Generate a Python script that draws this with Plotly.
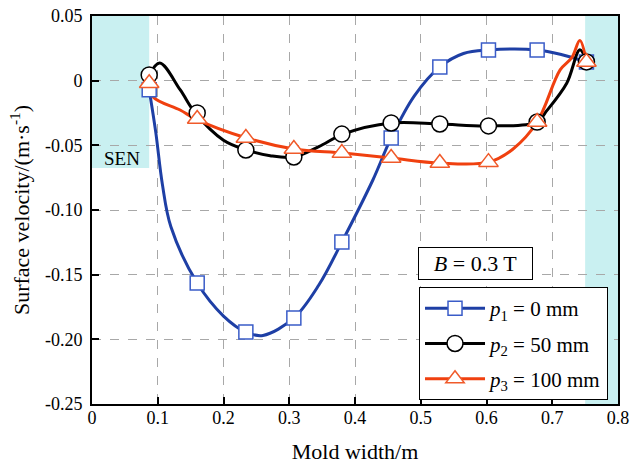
import plotly.graph_objects as go

# ---- data ----
# marker positions
mk_x = [0.087, 0.160, 0.234, 0.307, 0.380, 0.455, 0.529, 0.603, 0.677, 0.752]
p1_mk = [-0.007, -0.1565, -0.1944, -0.1835, -0.1248, -0.0443, 0.0106, 0.0237, 0.0237, 0.0144]
p2_mk = [0.0044, -0.0250, -0.0536, -0.0590, -0.0413, -0.0327, -0.0335, -0.0350, -0.0320, 0.0145]
p3_mk = [-0.002, -0.0297, -0.0443, -0.0528, -0.0560, -0.0598, -0.0637, -0.0630, -0.0320, 0.0144]

# smooth curves (denser points)
p1_lx = [0.087, 0.097, 0.107, 0.120, 0.160, 0.200, 0.234, 0.260, 0.307, 0.345, 0.380, 0.427, 0.455, 0.490, 0.529, 0.565, 0.603, 0.677, 0.715, 0.752]
p1_ly = [-0.007, -0.040, -0.080, -0.113, -0.1565, -0.182, -0.1944, -0.197, -0.1835, -0.158, -0.1248, -0.077, -0.0443, -0.012, 0.0106, 0.021, 0.0237, 0.0237, 0.020, 0.0144]

p2_lx = [0.087, 0.103, 0.134, 0.157, 0.200, 0.235, 0.271, 0.307, 0.345, 0.382, 0.455, 0.529, 0.603, 0.676, 0.692, 0.722, 0.742, 0.752]
p2_ly = [0.0044, 0.0137, -0.007, -0.025, -0.046, -0.0536, -0.058, -0.059, -0.051, -0.0413, -0.0327, -0.0335, -0.035, -0.032, -0.023, -0.002, 0.024, 0.0145]

p3_lx = [0.087, 0.093, 0.134, 0.158, 0.235, 0.307, 0.382, 0.455, 0.529, 0.603, 0.640, 0.677, 0.712, 0.730, 0.742, 0.752]
p3_ly = [-0.002, -0.0126, -0.0227, -0.0297, -0.0443, -0.0528, -0.056, -0.0598, -0.0637, -0.063, -0.053, -0.032, 0.0083, 0.018, 0.031, 0.0144]

names = ["<i>p</i><sub>1</sub> = 0 mm", "<i>p</i><sub>2</sub> = 50 mm", "<i>p</i><sub>3</sub> = 100 mm"]
x_ticks = [0, 0.1, 0.2, 0.3, 0.4, 0.5, 0.6, 0.7, 0.8]
x_ticktext = ["0", "0.1", "0.2", "0.3", "0.4", "0.5", "0.6", "0.7", "0.8"]
y_ticks = [0.05, 0, -0.05, -0.10, -0.15, -0.20, -0.25]
y_ticktext = ["0.05", "0", "-0.05", "-0.10", "-0.15", "-0.20", "-0.25"]

FONT = "Liberation Serif"
BLUE_L, BLUE_M = "#1e3fa5", "#3a5cc8"
BLACK = "#000000"
RED_L, RED_M = "#f0400f", "#f05a2a"

fig = go.Figure()

series = [
    (p1_lx, p1_ly, p1_mk, BLUE_L, BLUE_M, "square", 14),
    (p2_lx, p2_ly, p2_mk, BLACK, BLACK, "circle", 16),
    (p3_lx, p3_ly, p3_mk, RED_L, RED_M, "triangle-up", 17),
]
for (lx, ly, mky, lc, mc, sym, sz), nm in zip(series, names):
    fig.add_trace(go.Scatter(x=lx, y=ly, mode="lines", line=dict(color=lc, width=3, shape="spline", smoothing=1.0),
                             showlegend=False, hoverinfo="skip"))
for (lx, ly, mky, lc, mc, sym, sz), nm in zip(series, names):
    fig.add_trace(go.Scatter(x=mk_x, y=mky, mode="markers",
                             marker=dict(symbol=sym, size=sz, color="white", line=dict(color=mc, width=1.5)),
                             showlegend=False))
for i, ((lx, ly, mky, lc, mc, sym, sz), nm) in enumerate(zip(series, names)):
    fig.add_trace(go.Scatter(x=[None], y=[None], mode="lines+markers", name=nm, legendgroup=f"g{i}",
                             line=dict(color=lc, width=3),
                             marker=dict(symbol=sym, size=sz, color="white", line=dict(color=mc, width=1.5))))

# shaded regions
fig.add_shape(type="rect", xref="x", yref="y", x0=0, x1=0.087, y0=-0.0675, y1=0.05,
              fillcolor="#c9f0f1", line=dict(width=0), layer="below")
fig.add_shape(type="rect", xref="x", yref="y", x0=0.75, x1=0.8, y0=-0.25, y1=0.05,
              fillcolor="#c9f0f1", line=dict(width=0), layer="below")

fig.add_annotation(x=0.015, y=-0.0605, xref="x", yref="y", text="SEN", showarrow=False,
                   xanchor="left", yanchor="middle", font=dict(family=FONT, size=19, color="black"))
fig.add_annotation(x=0.729, y=0.3634, xref="paper", yref="paper", text="<i>B</i> = 0.3 T", showarrow=False,
                   xanchor="center", yanchor="middle", font=dict(family=FONT, size=22, color="black"),
                   bordercolor="black", borderwidth=1, borderpad=3, bgcolor="white", width=107)

axis_common = dict(showline=True, linecolor="black", linewidth=2, mirror=True,
                   ticks="inside", ticklen=7, tickwidth=2, tickcolor="black",
                   showgrid=True, gridcolor="#a8a8a8", griddash="dash", gridwidth=1,
                   zeroline=False, automargin=False, ticklabeloverflow="allow",
                   tickfont=dict(family=FONT, size=18, color="black"))

fig.update_xaxes(range=[0, 0.8], tickvals=x_ticks, ticktext=x_ticktext, ticklabelstandoff=-4,
                 title=dict(text="Mold width/m", font=dict(family=FONT, size=22, color="black"), standoff=17),
                 **axis_common)
fig.update_yaxes(range=[-0.25, 0.05], tickvals=y_ticks, ticktext=y_ticktext, ticklabelstandoff=4,
                 title=dict(text="Surface velocity/(m·s<sup>-1</sup>)", font=dict(family=FONT, size=22, color="black"), standoff=9),
                 **axis_common)

fig.update_layout(
    width=631, height=468,
    font=dict(family=FONT, color="black"),
    margin=dict(l=92, r=13, t=16, b=64, autoexpand=False),
    plot_bgcolor="white", paper_bgcolor="white",
    legend=dict(x=0.6217, y=0.3015, xanchor="left", yanchor="top",
                bordercolor="black", borderwidth=1, bgcolor="white",
                font=dict(family=FONT, size=21, color="black"), itemwidth=60, tracegroupgap=5),
)

# remove the browser's default 8 px body margin so the figure fills the window exactly
fig.write_html("out.html", config={"displayModeBar": False},
               post_script="document.body.style.margin='0';document.body.style.overflow='hidden';")
